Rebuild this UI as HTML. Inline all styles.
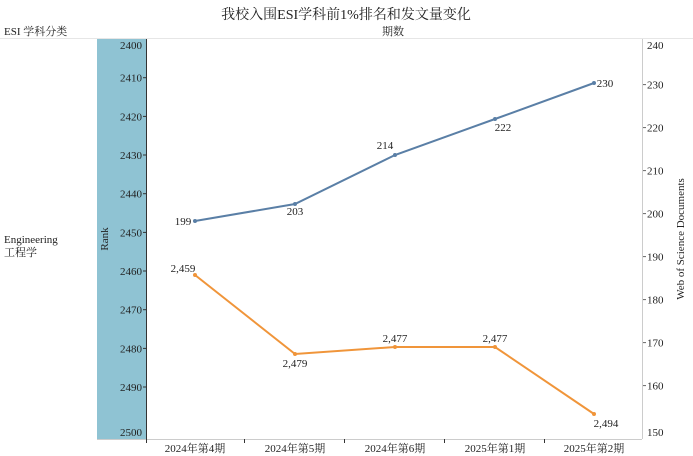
<!DOCTYPE html><html><head><meta charset="utf-8"><style>body{margin:0;background:#fff}svg{display:block}text{font-family:"Liberation Serif","Noto Serif CJK SC",serif;fill:#222}</style></head><body>
<svg width="693" height="456" xmlns="http://www.w3.org/2000/svg">
<text x="346" y="19" font-size="14" text-anchor="middle">我校入围ESI学科前1%排名和发文量变化</text>
<text x="4" y="35" font-size="11">ESI 学科分类</text>
<text x="393" y="35" font-size="11" text-anchor="middle">期数</text>
<line x1="0" y1="38.5" x2="693" y2="38.5" stroke="#e6e6e6"/>
<rect x="97" y="39" width="49" height="400" fill="#8fc3d3"/>
<line x1="146.5" y1="39" x2="146.5" y2="439" stroke="#333"/>
<line x1="642.5" y1="39" x2="642.5" y2="439" stroke="#ccc"/>
<line x1="97" y1="439.5" x2="642" y2="439.5" stroke="#ccc"/>
<g font-size="11" text-anchor="end">
<text x="142" y="49">2400</text><text x="142" y="81.7">2410</text><text x="142" y="120.4">2420</text><text x="142" y="159">2430</text><text x="142" y="197.7">2440</text><text x="142" y="236.4">2450</text><text x="142" y="275">2460</text><text x="142" y="313.7">2470</text><text x="142" y="352.4">2480</text><text x="142" y="391">2490</text><text x="142" y="436">2500</text>
</g>
<g stroke="#333"><line x1="143" y1="77.7" x2="146" y2="77.7"/><line x1="143" y1="116.4" x2="146" y2="116.4"/><line x1="143" y1="155" x2="146" y2="155"/><line x1="143" y1="193.7" x2="146" y2="193.7"/><line x1="143" y1="232.4" x2="146" y2="232.4"/><line x1="143" y1="271" x2="146" y2="271"/><line x1="143" y1="309.7" x2="146" y2="309.7"/><line x1="143" y1="348.4" x2="146" y2="348.4"/><line x1="143" y1="387" x2="146" y2="387"/></g>
<g font-size="11"><text x="647" y="49">240</text><text x="647" y="88.6">230</text><text x="647" y="131.6">220</text><text x="647" y="174.6">210</text><text x="647" y="217.6">200</text><text x="647" y="260.6">190</text><text x="647" y="303.6">180</text><text x="647" y="346.6">170</text><text x="647" y="389.6">160</text><text x="647" y="436">150</text></g>
<g stroke="#666"><line x1="643" y1="84.6" x2="646" y2="84.6"/><line x1="643" y1="127.6" x2="646" y2="127.6"/><line x1="643" y1="170.6" x2="646" y2="170.6"/><line x1="643" y1="213.6" x2="646" y2="213.6"/><line x1="643" y1="256.6" x2="646" y2="256.6"/><line x1="643" y1="299.6" x2="646" y2="299.6"/><line x1="643" y1="342.6" x2="646" y2="342.6"/><line x1="643" y1="385.6" x2="646" y2="385.6"/></g>
<text transform="translate(684,239) rotate(-90)" font-size="11" text-anchor="middle">Web of Science Documents</text>
<text transform="translate(108,239) rotate(-90)" font-size="11" text-anchor="middle">Rank</text>
<text x="4" y="243" font-size="11">Engineering</text><text x="4" y="256" font-size="11">工程学</text>
<g stroke="#333"><line x1="146.5" y1="439" x2="146.5" y2="443"/><line x1="244.5" y1="439" x2="244.5" y2="443"/><line x1="344.5" y1="439" x2="344.5" y2="443"/><line x1="444.5" y1="439" x2="444.5" y2="443"/><line x1="544.5" y1="439" x2="544.5" y2="443"/></g>
<g font-size="11" text-anchor="middle"><text x="195" y="452">2024年第4期</text><text x="295" y="452">2024年第5期</text><text x="395" y="452">2024年第6期</text><text x="495" y="452">2025年第1期</text><text x="594" y="452">2025年第2期</text></g>
<polyline points="195,221 295,204 395,155 495,119 594,83" fill="none" stroke="#5a7fa6" stroke-width="2"/>
<g fill="#5a7fa6"><circle cx="195" cy="221" r="2"/><circle cx="295" cy="204" r="2"/><circle cx="395" cy="155" r="2"/><circle cx="495" cy="119" r="2"/><circle cx="594" cy="83" r="2"/></g>
<polyline points="195,275 295,354 395,347 495,347 594,414" fill="none" stroke="#f0953a" stroke-width="2"/>
<g fill="#f0953a"><circle cx="195" cy="275" r="2"/><circle cx="295" cy="354" r="2"/><circle cx="395" cy="347" r="2"/><circle cx="495" cy="347" r="2"/><circle cx="594" cy="414" r="2"/></g>
<g font-size="11" text-anchor="middle"><text x="183" y="225">199</text><text x="295" y="215">203</text><text x="385" y="149">214</text><text x="503" y="131">222</text><text x="605" y="87">230</text>
<text x="183" y="272">2,459</text><text x="295" y="367">2,479</text><text x="395" y="342">2,477</text><text x="495" y="342">2,477</text><text x="606" y="427">2,494</text></g>
</svg></body></html>
